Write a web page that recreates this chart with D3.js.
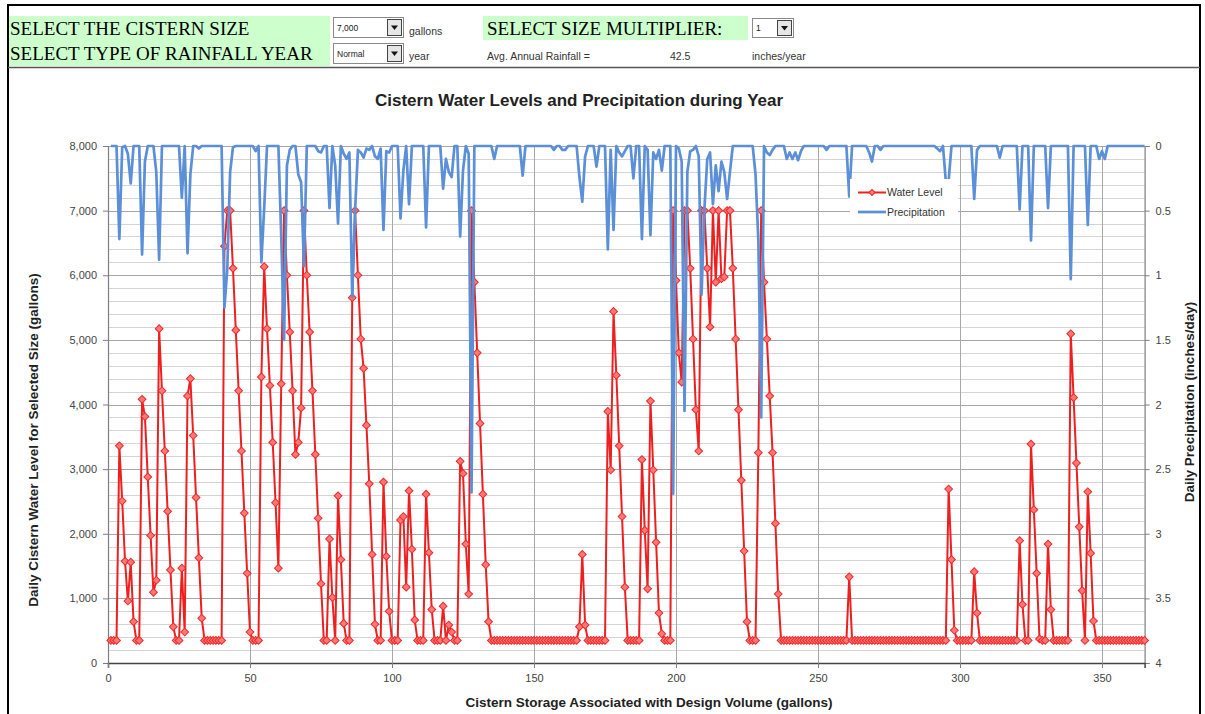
<!DOCTYPE html>
<html><head><meta charset="utf-8">
<script src="https://cdn.jsdelivr.net/npm/d3@7/dist/d3.min.js"></script>
<style>body{margin:0;background:#fff;overflow:hidden}</style>
</head><body>
<svg id="c" width="1205" height="714"></svg>
<script>
// Daily cistern water level (gallons), days 1..365
const waterLevel = [
 350,350,350,3360,2507,1573,960,1560,640,350,
 350,4080,3813,2880,1973,1093,1280,5173,4213,3280,
 2347,1440,560,350,350,1467,480,4133,4400,3520,
 2560,1627,693,350,350,350,350,350,350,350,
 6450,7000,7000,6107,5150,4213,3280,2320,1387,480,
 350,350,350,4427,6133,5173,4293,3413,2480,1467,
 4320,7000,6000,5120,4213,3227,3413,3947,7000,6000,
 5120,4213,3227,2240,1227,350,350,1920,1013,350,
 2587,1600,613,350,350,5653,7000,6000,5013,4560,
 3680,2773,1680,600,350,350,2800,1650,800,350,
 350,350,2213,2267,1173,2667,1760,667,350,350,
 350,2613,1707,827,350,350,350,880,350,587,
 480,350,350,3120,2933,1840,1067,7000,5893,4800,
 3707,2613,1520,640,350,350,350,350,350,350,
 350,350,350,350,350,350,350,350,350,350,
 350,350,350,350,350,350,350,350,350,350,
 350,350,350,350,350,560,1680,587,350,350,
 350,350,350,350,350,3893,2987,5440,4453,3360,
 2267,1173,350,350,350,350,350,3147,2053,1147,
 4053,2987,1867,773,453,350,350,350,7000,5920,
 4800,4347,7000,7000,6107,5013,3920,3280,7000,7000,
 6107,5200,7000,5893,7000,5947,5973,7000,7000,6107,
 5013,3920,2827,1733,640,350,350,350,3253,7000,
 5893,5013,4133,3253,2160,1067,350,350,350,350,
 350,350,350,350,350,350,350,350,350,350,
 350,350,350,350,350,350,350,350,350,350,
 1333,350,350,350,350,350,350,350,350,350,
 350,350,350,350,350,350,350,350,350,350,
 350,350,350,350,350,350,350,350,350,350,
 350,350,350,350,350,2693,1600,507,350,350,
 350,350,350,350,1413,773,350,350,350,350,
 350,350,350,350,350,350,350,350,350,350,
 1893,907,350,350,3387,2373,1387,373,350,350,
 1840,827,350,350,350,350,350,350,5093,4107,
 3093,2107,1120,350,2650,1700,650,350,350,350,
 350,350,350,350,350,350,350,350,350,350,
 350,350,350,350,350
];
// Daily precipitation (inches/day), days 1..365
const precipitation = [
 0,0,0,0.72,0.01,0,0.06,0.29,0,0,
 0,0.84,0.12,0,0,0,0.2,0.88,0,0,
 0,0,0,0,0,0.4,0,0.83,0.22,0,
 0,0.02,0,0,0,0,0,0,0,0,
 1.25,0.95,0.2,0.01,0,0,0,0,0,0,
 0,0.04,0,0.9,0.48,0,0,0,0,0,
 0.7,1.5,0.15,0.03,0,0,0.22,0.28,0.93,0,
 0,0,0,0.04,0.05,0,0,0.48,0,0.15,
 0.6,0,0.06,0.1,0.05,1.17,0.5,0.03,0.05,0.09,
 0.02,0.03,0,0.08,0.1,0.02,0.65,0.04,0.05,0,
 0,0,0.56,0.19,0,0.45,0,0,0,0,
 0,0.63,0,0,0,0,0,0.33,0.1,0.2,
 0.24,0,0,0.7,0.19,0,0.06,2.68,0,0,
 0,0,0,0,0,0.1,0,0,0,0,
 0,0,0,0,0,0.23,0,0,0,0,
 0,0,0,0,0,0,0.03,0,0,0.03,
 0.03,0,0,0,0,0.24,0.43,0.08,0,0,
 0,0.16,0,0,0,0.8,0.03,0.65,0,0.05,
 0.08,0.04,0,0,0.25,0,0,0.72,0,0.03,
 0.69,0.05,0.1,0.03,0.19,0,0,0,2.69,0,
 0.02,0.12,2.05,0.2,0.04,0.03,0,0.08,1.15,0.49,
 0.1,0.05,0.45,0.15,0.35,0.12,0.2,0.41,0.2,0,
 0,0,0,0,0,0,0,0.22,0.73,2.1,
 0,0.05,0.07,0.03,0,0,0,0,0.1,0.05,
 0.1,0.05,0.11,0.04,0,0,0,0,0,0,
 0,0,0.03,0,0,0,0,0,0,0,
 0.39,0,0,0,0,0,0,0.05,0.12,0,
 0,0.03,0,0,0,0,0,0,0,0,
 0,0,0,0,0,0,0,0,0,0,
 0,0.02,0.04,0,0.27,0.27,0,0,0,0,
 0,0,0,0,0.41,0.03,0,0,0,0,
 0,0,0,0.09,0,0,0,0,0,0,
 0.49,0,0,0,0.73,0,0,0,0,0,
 0.48,0,0,0,0,0,0,0,1.03,0,
 0,0,0,0,0.61,0,0,0,0.1,0.04,
 0.1,0,0,0,0,0,0,0,0,0,
 0,0,0,0,0
];
const days = d3.range(1, 366);
const xTicks = [0, 50, 100, 150, 200, 250, 300, 350];
const yTicks = [0, 1000, 2000, 3000, 4000, 5000, 6000, 7000, 8000];
const y2Ticks = [0, 0.5, 1, 1.5, 2, 2.5, 3, 3.5, 4];
const seriesNames = ["Water Level", "Precipitation"];

const svg = d3.select("#c");
const SANS = "'Liberation Sans', Arial, sans-serif";
const SERIF = "'Liberation Serif', 'Times New Roman', serif";

// ---------- header form ----------
const hdr = svg.append("g");
hdr.append("rect").attr("x", 9).attr("y", 16).attr("width", 321).attr("height", 50).attr("fill", "#ccffcc");
hdr.append("rect").attr("x", 483).attr("y", 16).attr("width", 265).attr("height", 24).attr("fill", "#ccffcc");
const bigT = (x, y, t) => hdr.append("text").attr("x", x).attr("y", y).attr("font-family", SERIF)
  .attr("font-size", 19).attr("fill", "#000").text(t);
bigT(10, 35, "SELECT THE CISTERN SIZE");
bigT(10, 60, "SELECT TYPE OF RAINFALL YEAR");
bigT(487, 35, "SELECT SIZE MULTIPLIER:");
const smallT = (x, y, t) => hdr.append("text").attr("x", x).attr("y", y).attr("font-family", SANS)
  .attr("font-size", 10.5).attr("fill", "#333").text(t);
smallT(409, 35, "gallons");
smallT(409, 60, "year");
smallT(487, 60, "Avg. Annual Rainfall =");
smallT(670, 60, "42.5");
smallT(752, 60, "inches/year");
function dropdown(x, y, w, h, label) {
  const g = hdr.append("g");
  g.append("rect").attr("x", x + 0.5).attr("y", y + 0.5).attr("width", w).attr("height", h)
    .attr("fill", "#fff").attr("stroke", "#8a8a8a");
  g.append("text").attr("x", x + 4).attr("y", y + h - 6).attr("font-family", SANS)
    .attr("font-size", 8.5).attr("fill", "#222").text(label);
  const bx = x + w - 16, by = y + 2;
  g.append("rect").attr("x", bx + 0.5).attr("y", by + 0.5).attr("width", 14).attr("height", h - 4)
    .attr("fill", "#e6e6e6").attr("stroke", "#444");
  const cx = bx + 7.5, cy = by + (h - 4) / 2 + 0.5;
  g.append("path").attr("d", `M${cx - 3.5},${cy - 2}L${cx + 3.5},${cy - 2}L${cx},${cy + 2.5}Z`).attr("fill", "#111");
}
dropdown(333, 17, 70, 20, "7,000");
dropdown(333, 43, 70, 20, "Normal");
dropdown(752, 18, 41, 19, "1");

// borders
svg.append("line").attr("x1", 8).attr("x2", 1201).attr("y1", 5).attr("y2", 5).attr("stroke", "#000").attr("stroke-width", 2);
svg.append("line").attr("x1", 8).attr("x2", 8).attr("y1", 4).attr("y2", 714).attr("stroke", "#000").attr("stroke-width", 2);
svg.append("line").attr("x1", 1200).attr("x2", 1200).attr("y1", 4).attr("y2", 714).attr("stroke", "#000").attr("stroke-width", 2);
svg.append("line").attr("x1", 8).attr("x2", 1200).attr("y1", 67.5).attr("y2", 67.5).attr("stroke", "#555").attr("stroke-width", 1.5);

// ---------- chart ----------
const X0 = 108, X1 = 108 + 365 * 2.84, YT = 146, YB = 663;
const x = d3.scaleLinear().domain([0, 365]).range([X0, X1]);
const y = d3.scaleLinear().domain([0, 8000]).range([YB, YT]);
const y2 = d3.scaleLinear().domain([0, 4]).range([YT, YB]);

const grid = svg.append("g");
d3.range(200, 8000, 200).forEach(v => {
  const major = v % 1000 === 0;
  grid.append("line").attr("x1", X0).attr("x2", X1).attr("y1", Math.round(y(v)) + 0.5).attr("y2", Math.round(y(v)) + 0.5)
    .attr("stroke", major ? "#a6a6a6" : "#d4d4d4").attr("stroke-width", 1);
});
svg.append("line").attr("x1", X0).attr("x2", X1).attr("y1", YT + 0.5).attr("y2", YT + 0.5).attr("stroke", "#a6a6a6");
xTicks.filter(t => t > 0).forEach(t => {
  grid.append("line").attr("x1", Math.round(x(t)) + 0.5).attr("x2", Math.round(x(t)) + 0.5).attr("y1", YT).attr("y2", YB)
    .attr("stroke", "#a8a8a8");
});

// axes
const axL = svg.append("g").attr("transform", `translate(${X0},0)`)
  .call(d3.axisLeft(y).tickValues(yTicks).tickFormat(d3.format(",")).tickSize(5).tickPadding(6));
const axR = svg.append("g").attr("transform", `translate(${X1},0)`)
  .call(d3.axisRight(y2).tickValues(y2Ticks).tickFormat(d => String(d)).tickSize(5).tickPadding(6));
const axB = svg.append("g").attr("transform", `translate(0,${YB})`)
  .call(d3.axisBottom(x).tickValues(xTicks).tickSize(5).tickPadding(6));
[axL, axR, axB].forEach(a => {
  a.select(".domain").attr("stroke", "#7f7f7f").attr("stroke-width", 1.2);
  a.selectAll(".tick line").attr("stroke", "#7f7f7f");
  a.selectAll(".tick text").attr("font-family", SANS).attr("font-size", 11).attr("fill", "#444");
});
axB.select(".domain").attr("stroke", "#444").attr("stroke-width", 1.5);

// series
const ptsW = days.map((d, i) => [d, waterLevel[i]]);
const ptsP = days.map((d, i) => [d, precipitation[i]]);
svg.append("path").datum(ptsW)
  .attr("d", d3.line().x(p => x(p[0])).y(p => y(p[1])))
  .attr("fill", "none").attr("stroke", "#ee1f1f").attr("stroke-width", 2).attr("stroke-linejoin", "round");
const diamond = d3.symbol().type(d3.symbolSquare).size(30);
svg.append("g").selectAll("path").data(ptsW).join("path")
  .attr("transform", p => `translate(${x(p[0])},${y(p[1])}) rotate(45)`)
  .attr("d", diamond).attr("fill", "#ff7676").attr("stroke", "#ee2a2a").attr("stroke-width", 1);
svg.append("path").datum(ptsP)
  .attr("d", d3.line().x(p => x(p[0])).y(p => y2(p[1])))
  .attr("fill", "none").attr("stroke", "#5b8fd8").attr("stroke-width", 2.7).attr("stroke-linejoin", "round");

// legend
const lg = svg.append("g");
lg.append("rect").attr("x", 850).attr("y", 179).attr("width", 108).attr("height", 42).attr("fill", "#fff");
lg.append("line").attr("x1", 858).attr("x2", 886).attr("y1", 192.5).attr("y2", 192.5).attr("stroke", "#ee1f1f").attr("stroke-width", 2);
lg.append("path").attr("transform", "translate(872,192.5) rotate(45)").attr("d", d3.symbol().type(d3.symbolSquare).size(18))
  .attr("fill", "#ff7676").attr("stroke", "#ee2a2a");
lg.append("line").attr("x1", 858).attr("x2", 886).attr("y1", 212).attr("y2", 212).attr("stroke", "#5b8fd8").attr("stroke-width", 2.7);
seriesNames.forEach((n, i) => lg.append("text").attr("x", 887).attr("y", 196 + i * 19.5)
  .attr("font-family", SANS).attr("font-size", 10.5).attr("fill", "#333").text(n));

// titles
svg.append("text").attr("x", 579).attr("y", 106).attr("text-anchor", "middle").attr("font-family", SANS)
  .attr("font-size", 17).attr("font-weight", "bold").attr("fill", "#222")
  .text("Cistern Water Levels and Precipitation during Year");
svg.append("text").attr("transform", "translate(38,440) rotate(-90)").attr("text-anchor", "middle")
  .attr("font-family", SANS).attr("font-size", 13.5).attr("font-weight", "bold").attr("fill", "#222")
  .text("Daily Cistern Water Level for Selected Size (gallons)");
svg.append("text").attr("transform", "translate(1194,402) rotate(-90)").attr("text-anchor", "middle")
  .attr("font-family", SANS).attr("font-size", 13.5).attr("font-weight", "bold").attr("fill", "#222")
  .text("Daily Precipitation (inches/day)");
svg.append("text").attr("x", 649).attr("y", 707).attr("text-anchor", "middle")
  .attr("font-family", SANS).attr("font-size", 13.5).attr("font-weight", "bold").attr("fill", "#222")
  .text("Cistern Storage Associated with Design Volume (gallons)");
</script>
</body></html>
